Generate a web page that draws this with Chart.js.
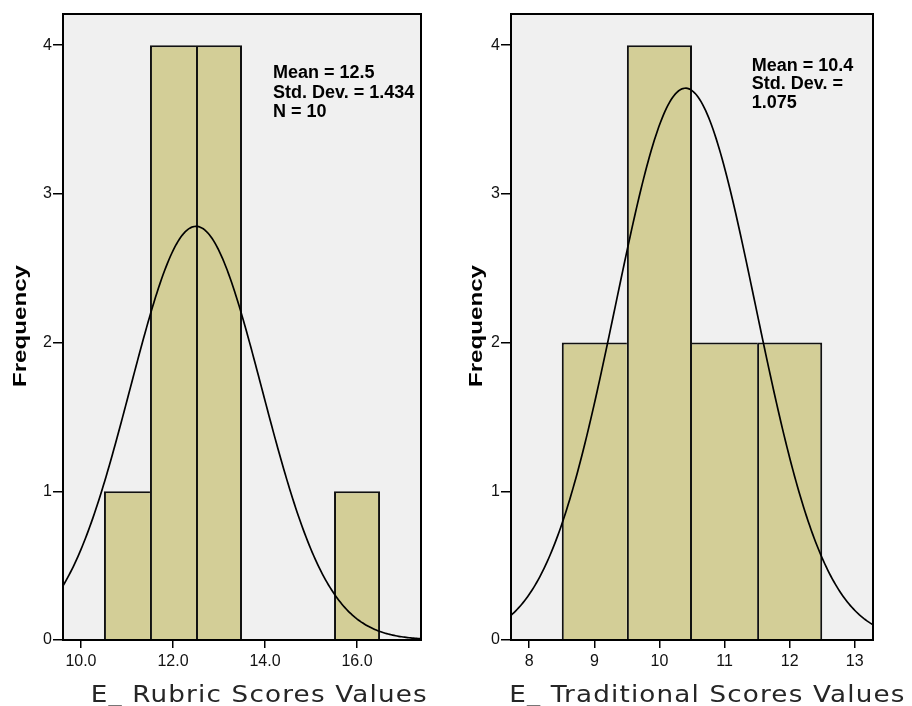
<!DOCTYPE html>
<html>
<head>
<meta charset="utf-8">
<script src="https://cdn.jsdelivr.net/npm/chart.js@4"></script>
<style>
  html, body { margin: 0; padding: 0; background: #fff; }
  #wrap { position: relative; width: 912px; height: 706px; }
  canvas { position: absolute; top: 0; }
</style>
</head>
<body>
<div id="wrap">
  <canvas id="rubric" width="456" height="706" style="left:0"></canvas>
  <canvas id="trad" width="456" height="706" style="left:456px"></canvas>
</div>
<script>
// Rubric scores: bin centres (bin width 1) and counts
const rubricBins = [11, 12, 13, 16];
const rubricCounts = [1, 4, 4, 1];
const rubricTicks = [10, 12, 14, 16];
const rubricStats = { mean: 12.5, sd: 1.434, n: 10 };
const rubricRange = [9.61, 17.39];

// Traditional scores: bin centres (bin width 1) and counts
const tradBins = [9, 10, 11, 12];
const tradCounts = [2, 4, 2, 2];
const tradTicks = [8, 9, 10, 11, 12, 13];
const tradStats = { mean: 10.4, sd: 1.075, n: 10 };
const tradRange = [7.72, 13.28];

// Shared frequency axis
const freqTicks = [0, 1, 2, 3, 4];
const freqMax = 4.21;
const binWidth = 1;

const rubricLabel = ['Mean = ' + rubricStats.mean, 'Std. Dev. = ' + rubricStats.sd, 'N = ' + rubricStats.n];
const tradLabel = ['Mean = ' + tradStats.mean, 'Std. Dev. =', String(tradStats.sd)];

// Normal density scaled to counts (n * bin width * pdf)
function normalCurve(stats, range, steps) {
  const pts = [];
  for (let i = 0; i <= steps; i++) {
    const x = range[0] + (range[1] - range[0]) * i / steps;
    const z = (x - stats.mean) / stats.sd;
    const y = stats.n * binWidth * Math.exp(-0.5 * z * z) / (stats.sd * Math.sqrt(2 * Math.PI));
    pts.push({ x, y });
  }
  return pts;
}

const SANS = "'Liberation Sans', Arial, sans-serif";

function makeChart(id, cfg) {
  const decor = {
    id: 'decor',
    beforeDatasetsDraw(chart) {
      const { ctx, chartArea: a } = chart;
      ctx.save();
      ctx.fillStyle = '#f0f0f0';
      ctx.fillRect(a.left, a.top, a.right - a.left, a.bottom - a.top);
      ctx.restore();
    },
    afterDraw(chart) {
      const { ctx, chartArea: a } = chart;
      ctx.save();
      ctx.strokeStyle = '#000';
      ctx.lineWidth = 2;
      ctx.strokeRect(a.left, a.top, a.right - a.left, a.bottom - a.top);

      // summary statistics
      ctx.fillStyle = '#000';
      ctx.font = 'bold 18px ' + SANS;
      ctx.textAlign = 'left';
      ctx.textBaseline = 'alphabetic';
      cfg.label.forEach((t, i) => ctx.fillText(t, cfg.labelX, cfg.labelY[i]));

      // y-axis title, stretched along the text direction
      ctx.save();
      ctx.translate(25.5, 326);
      ctx.rotate(-Math.PI / 2);
      ctx.font = 'bold 19px ' + SANS;
      ctx.textAlign = 'center';
      const w = ctx.measureText('Frequency').width;
      ctx.scale(122 / w, 1);
      ctx.fillText('Frequency', 0, 0);
      ctx.restore();

      // x-axis title in a wide face
      ctx.save();
      const sx = 1.14;
      ctx.translate(cfg.xTitleX, 701.5);
      ctx.scale(sx, 1);
      ctx.font = "23px 'DejaVu Sans', sans-serif";
      ctx.fillStyle = '#262626';
      ctx.letterSpacing = '0px';
      const tw = ctx.measureText(cfg.xTitle).width;
      const n = [...cfg.xTitle].length;
      ctx.letterSpacing = ((cfg.xTitleWidth / sx - tw) / (n - 1)).toFixed(2) + 'px';
      ctx.fillText(cfg.xTitle, 0, 0);
      ctx.restore();
      ctx.restore();
    }
  };

  // a shared edge between touching bars is drawn once, by the taller bar
  const countAt = x => {
    const i = cfg.bins.indexOf(x);
    return i < 0 ? null : cfg.counts[i];
  };
  const barBorder = c => {
    const raw = c.raw;
    if (!raw) return 2;
    const own = raw.y;
    const l = countAt(raw.x - binWidth);
    const r = countAt(raw.x + binWidth);
    return {
      top: 2,
      bottom: 0,
      left: (l === null || l <= own) ? 2 : 0,
      right: (r === null || r < own) ? 2 : 0
    };
  };

  return new Chart(document.getElementById(id), {
    type: 'bar',
    data: {
      datasets: [
        {
          type: 'line',
          data: normalCurve(cfg.stats, cfg.range, 240),
          borderColor: '#000',
          borderWidth: 1.7,
          pointRadius: 0,
          tension: 0,
          fill: false,
          order: 0
        },
        {
          type: 'bar',
          data: cfg.bins.map((b, i) => ({ x: b, y: cfg.counts[i] })),
          backgroundColor: '#d3ce97',
          borderColor: '#111',
          borderWidth: barBorder,
          borderSkipped: false,
          inflateAmount: 0,
          barPercentage: 1,
          categoryPercentage: 1,
          grouped: false,
          order: 1
        }
      ]
    },
    options: {
      responsive: false,
      animation: false,
      events: [],
      layout: { padding: { top: 14, right: cfg.rightPad, left: 0, bottom: 0 } },
      plugins: { legend: { display: false }, tooltip: { enabled: false } },
      scales: {
        x: {
          type: 'linear',
          min: cfg.range[0],
          max: cfg.range[1],
          offset: false,
          afterBuildTicks: s => { s.ticks = cfg.ticks.map(v => ({ value: v })); },
          afterFit: s => { s.height = 66; },
          ticks: {
            autoSkip: false,
            maxRotation: 0,
            padding: 4,
            color: '#111',
            font: { family: SANS, size: 16 },
            callback: v => cfg.fmt(v)
          },
          grid: { drawOnChartArea: false, tickLength: 8, color: '#000', lineWidth: 1.5, offset: false },
          border: { display: false }
        },
        y: {
          type: 'linear',
          min: 0,
          max: freqMax,
          afterBuildTicks: s => { s.ticks = freqTicks.map(v => ({ value: v })); },
          afterFit: s => { s.width = cfg.yWidth; },
          ticks: {
            padding: 1,
            color: '#111',
            font: { family: SANS, size: 16 }
          },
          grid: { drawOnChartArea: false, tickLength: 10, color: '#000', lineWidth: 1.5 },
          border: { display: false }
        }
      }
    },
    plugins: [decor]
  });
}

makeChart('rubric', {
  bins: rubricBins, counts: rubricCounts, ticks: rubricTicks, stats: rubricStats, range: rubricRange,
  fmt: v => v.toFixed(1), yWidth: 63, rightPad: 35,
  label: rubricLabel, labelX: 273, labelY: [78.3, 97.5, 116.7],
  xTitle: 'E_ Rubric Scores Values', xTitleX: 90.7, xTitleWidth: 336
});

makeChart('trad', {
  bins: tradBins, counts: tradCounts, ticks: tradTicks, stats: tradStats, range: tradRange,
  fmt: v => String(v), yWidth: 55, rightPad: 39,
  label: tradLabel, labelX: 295.7, labelY: [70.7, 89.3, 108],
  xTitle: 'E_ Traditional Scores Values', xTitleX: 53.3, xTitleWidth: 395
});
</script>
</body>
</html>
